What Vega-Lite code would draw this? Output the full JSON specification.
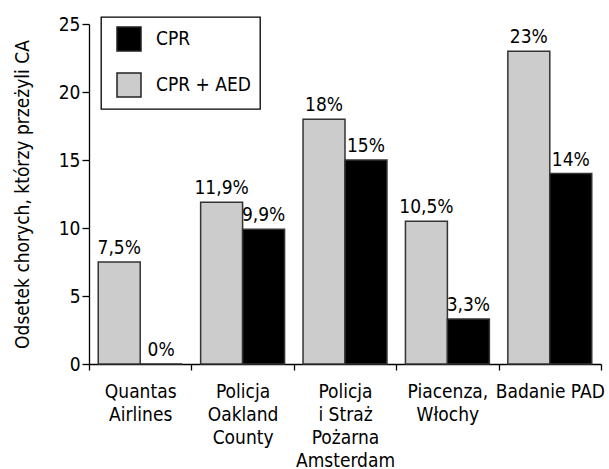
{
  "$schema": "https://vega.github.io/schema/vega-lite/v6.json",
  "width": 512,
  "height": 340,
  "autosize": "none",
  "padding": {"left": 89, "top": 24, "right": 8, "bottom": 105},
  "background": "white",
  "config": {
    "view": {"stroke": null},
    "font": "Liberation Sans Narrow, DejaVu Sans Condensed, sans-serif",
    "axis": {"domainColor": "black", "tickColor": "black", "labelColor": "black", "titleColor": "black", "domainWidth": 1.3, "tickWidth": 1.3, "grid": false},
    "legend": {"strokeColor": "black", "strokeWidth": 1.3, "fillColor": "white"}
  },
  "data": {
    "values": [
      {"site": "Quantas|Airlines", "group": "CPR + AED", "value": 7.5, "label": "7,5%"},
      {"site": "Quantas|Airlines", "group": "CPR", "value": 0, "label": "0%"},
      {"site": "Policja|Oakland|County", "group": "CPR + AED", "value": 11.9, "label": "11,9%"},
      {"site": "Policja|Oakland|County", "group": "CPR", "value": 9.9, "label": "9,9%"},
      {"site": "Policja|i Straż|Pożarna|Amsterdam", "group": "CPR + AED", "value": 18, "label": "18%"},
      {"site": "Policja|i Straż|Pożarna|Amsterdam", "group": "CPR", "value": 15, "label": "15%"},
      {"site": "Piacenza,|Włochy", "group": "CPR + AED", "value": 10.5, "label": "10,5%"},
      {"site": "Piacenza,|Włochy", "group": "CPR", "value": 3.3, "label": "3,3%"},
      {"site": "Badanie PAD", "group": "CPR + AED", "value": 23, "label": "23%"},
      {"site": "Badanie PAD", "group": "CPR", "value": 14, "label": "14%"}
    ]
  },
  "encoding": {
    "x": {
      "field": "site", "type": "nominal", "sort": null,
      "scale": {"paddingInner": 0, "paddingOuter": 0},
      "axis": {"title": null, "labelAngle": 0, "tickBand": "extent", "tickSize": 6, "labelFontSize": 19, "labelLineHeight": 23, "labelPadding": 12, "labelExpr": "split(datum.label, '|')", "labelBaseline": "top"}
    },
    "xOffset": {"field": "group", "type": "nominal", "sort": ["CPR + AED", "CPR"], "scale": {"paddingInner": 0, "paddingOuter": 0.22}},
    "y": {
      "field": "value", "type": "quantitative",
      "scale": {"domain": [0, 25], "nice": false},
      "axis": {"title": "Odsetek chorych, którzy przeżyli CA", "values": [0, 5, 10, 15, 20, 25], "tickSize": 7, "labelFontSize": 19, "labelPadding": 2, "titleFontSize": 19, "titleFontWeight": "normal", "titlePadding": 26}
    }
  },
  "layer": [
    {
      "mark": {"type": "bar", "stroke": "#333333", "strokeWidth": 1.5},
      "encoding": {
        "color": {
          "field": "group", "type": "nominal",
          "scale": {"domain": ["CPR", "CPR + AED"], "range": ["#000000", "#cccccc"]},
          "legend": {"title": null, "orient": "none", "legendX": 12, "legendY": -7, "symbolType": "square", "symbolSize": 576, "symbolStrokeColor": "#222222", "symbolStrokeWidth": 1.5, "symbolOffset": 6, "labelFontSize": 19, "labelOffset": 14, "padding": 9, "rowPadding": 16, "symbolOpacity": 1}
        }
      }
    },
    {
      "mark": {"type": "text", "baseline": "bottom", "dy": -4, "fontSize": 19, "color": "black"},
      "encoding": {"text": {"field": "label"}}
    }
  ]
}
